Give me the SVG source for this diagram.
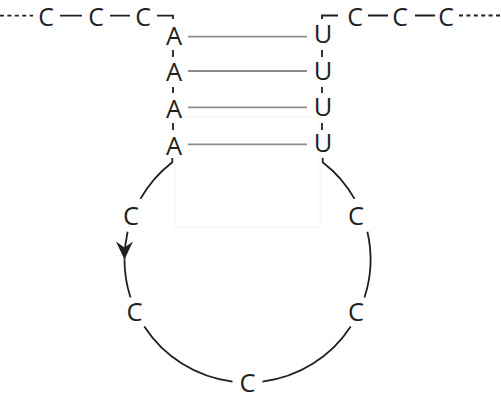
<svg xmlns="http://www.w3.org/2000/svg" width="501" height="401" viewBox="0 0 501 401">
<style>
.t{font-family:"Open Sans","Liberation Sans",sans-serif;font-size:25.5px;fill:#231f20;text-anchor:middle}
.s{font-size:25px}
.k{fill:none;stroke:#231f20;stroke-width:1.8}
.g{fill:none;stroke:#8c8c8c;stroke-width:1.8}
.d{fill:none;stroke:#231f20;stroke-width:1.8;stroke-dasharray:4 3.4}
</style>
<defs>
<marker id="ah" markerUnits="userSpaceOnUse" markerWidth="24" markerHeight="24" viewBox="-20 -10 24 20" refX="0" refY="0" orient="auto">
<path d="M0,0 L-18,-8.5 L-12,0 L-18,8.5 Z" fill="#231f20"/>
</marker>
</defs>
<rect x="175" y="117" width="145" height="110" fill="none" stroke="#f4f4f4" stroke-width="1"/>
<g id="connectors">
<path class="d" d="M0,15.7 H33"/>
<path class="d" d="M459,15.5 H501"/>
<path class="k" d="M60,15.7 H82 M110,15.7 H130 M157,15.7 H173 V19"/>
<path class="k" d="M368,15.5 H388 M415,15.5 H435 M338,15.5 H322 V19"/>
<path class="k" d="M173,50 V57 M173,87 V93 M173,123 V130"/>
<path class="k" d="M322,50 V57 M322,87 V93 M322,123 V130"/>
<path class="g" d="M188,36.7 H307 M188,71 H307 M188,107.3 H307 M188,144.3 H307"/>
<path class="k" d="M172.3,158 V162.2 A123,123 0 0 0 140.4,198.9"/>
<path class="k" d="M127.6,231.8 A123,123 0 0 0 124.5,259.5" marker-end="url(#ah)"/>
<path class="k" d="M124.5,259.5 A123,123 0 0 0 130.5,297.5"/>
<path class="k" d="M144.3,326.5 A123,123 0 0 0 232.5,381.6"/>
<path class="k" d="M262.5,381.6 A123,123 0 0 0 350.7,326.5"/>
<path class="k" d="M364.5,297.5 A123,123 0 0 0 367.4,231.8"/>
<path class="k" d="M354.6,198.9 A123,123 0 0 0 322.7,162.2 V158"/>
</g>
<g id="node-c-l1"><text class="t s" x="46" y="26">C</text></g>
<g id="node-c-l2"><text class="t s" x="96" y="26">C</text></g>
<g id="node-c-l3"><text class="t s" x="143" y="26">C</text></g>
<g id="node-c-r1"><text class="t s" x="355" y="26">C</text></g>
<g id="node-c-r2"><text class="t s" x="400" y="26">C</text></g>
<g id="node-c-r3"><text class="t s" x="446" y="26">C</text></g>
<g id="node-a1"><text class="t" x="174" y="45">A</text></g>
<g id="node-a2"><text class="t" x="174" y="81">A</text></g>
<g id="node-a3"><text class="t" x="174" y="118">A</text></g>
<g id="node-a4"><text class="t" x="174" y="155">A</text></g>
<g id="node-u1"><text class="t" x="323" y="43">U</text></g>
<g id="node-u2"><text class="t" x="323" y="80">U</text></g>
<g id="node-u3"><text class="t" x="323" y="116">U</text></g>
<g id="node-u4"><text class="t" x="323" y="152">U</text></g>
<g id="node-loop-c1"><text class="t" x="131" y="225">C</text></g>
<g id="node-loop-c2"><text class="t" x="134.5" y="321">C</text></g>
<g id="node-loop-c3"><text class="t" x="247.5" y="392">C</text></g>
<g id="node-loop-c4"><text class="t" x="356" y="321">C</text></g>
<g id="node-loop-c5"><text class="t" x="356" y="225">C</text></g>
</svg>
